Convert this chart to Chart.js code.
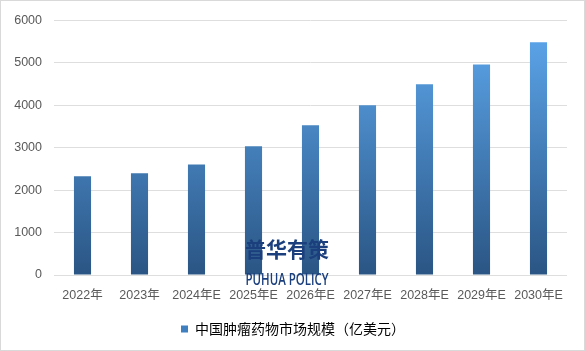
<!DOCTYPE html>
<html><head><meta charset="utf-8">
<script src="https://cdn.jsdelivr.net/npm/chart.js@4"></script>
<style>
html,body{margin:0;padding:0;background:#fff;}
#wrap{position:relative;width:583px;height:349px;border:1px solid #d9d9d9;}
</style></head>
<body><div id="wrap"><canvas id="c" width="583" height="349"></canvas></div>
<script>
const categories = ["2022年","2023年","2024年E","2025年E","2026年E","2027年E","2028年E","2029年E","2030年E"];
const marketSize = [2330, 2400, 2605, 3035, 3530, 4000, 4495, 4965, 5485];
const seriesName = "中国肿瘤药物市场规模（亿美元）";
const yTicks = [0,1000,2000,3000,4000,5000,6000];

const FONT = "'Liberation Sans','Noto Sans CJK SC',sans-serif";

const gradientBars = {
  id:'gradientBars',
  beforeDatasetsDraw(chart){
    const c = chart.ctx;
    chart.getDatasetMeta(0).data.forEach(el=>{
      const g = c.createLinearGradient(0, el.y, 0, el.base);
      g.addColorStop(0, '#5aa2e6');
      g.addColorStop(1, '#2a5584');
      el.options.backgroundColor = g;
    });
  }
};

const watermark = {
  id:'watermark',
  afterDatasetsDraw(chart){
    const c = chart.ctx;
    c.save();
    c.fillStyle = '#1b3f7c';
    c.textAlign = 'center';
    c.textBaseline = 'middle';
    c.font = "bold 21px 'Noto Sans CJK SC',sans-serif";
    c.fillText('普华有策', 286, 248);
    c.font = "600 16px 'Open Sans','Liberation Sans',sans-serif";
    const w = c.measureText('PUHUA POLICY').width;
    c.translate(286, 279);
    c.scale(83 / w, 1);
    c.fillText('PUHUA POLICY', 0, 0);
    c.restore();
  }
};

const legendShift = {
  id:'legendShift',
  afterLayout(chart){
    if (chart.legend) { chart.legend.left += 9; chart.legend.right += 9; }
  }
};

new Chart(document.getElementById('c'), {
  type:'bar',
  data:{
    labels: categories,
    datasets:[{
      label: seriesName,
      data: marketSize,
      backgroundColor: '#3f7fc0',
      borderWidth:0,
      categoryPercentage: 1.0,
      barPercentage: 0.30
    }]
  },
  options:{
    responsive:false,
    animation:false,
    devicePixelRatio:1,
    layout:{padding:{left:0,right:17,top:5,bottom:4}},
    scales:{
      x:{
        grid:{display:false},
        border:{display:false},
        ticks:{color:'#595959', font:{family:FONT, size:12.5}, maxRotation:0, autoSkip:false, padding:5}
      },
      y:{
        min:0, max:6000,
        afterBuildTicks(axis){ axis.ticks = yTicks.map(v=>({value:v})); },
        afterFit(axis){ axis.width = 53; },
        grid:{color:'#dedede', lineWidth:1, drawTicks:false},
        border:{display:false},
        ticks:{color:'#595959', font:{family:FONT, size:12.5}, padding:12, callback:v=>String(v)}
      }
    },
    plugins:{
      legend:{
        position:'bottom',
        labels:{
          color:'#595959',
          font:{family:"'Noto Sans CJK SC',sans-serif", size:14},
          boxWidth:7, boxHeight:7, padding:14,
          generateLabels(chart){
            return [{text: seriesName, fillStyle:'#3f7fc0', strokeStyle:'#3f7fc0', lineWidth:0, datasetIndex:0}];
          }
        }
      },
      tooltip:{enabled:false}
    }
  },
  plugins:[gradientBars, watermark, legendShift]
});
</script></body></html>
